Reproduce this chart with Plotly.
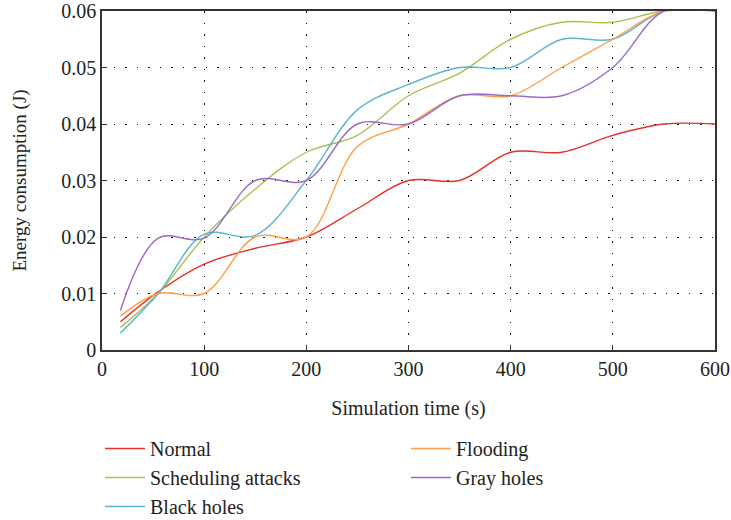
import plotly.graph_objects as go

time_s = [18, 55, 100, 150, 200, 250, 300, 350, 400, 450, 500, 550, 600]
normal = [0.005, 0.0103, 0.0152, 0.018, 0.020, 0.025, 0.030, 0.030, 0.035, 0.035, 0.038, 0.040, 0.040]
scheduling = [0.004, 0.010, 0.020, 0.0285, 0.035, 0.038, 0.045, 0.049, 0.055, 0.058, 0.058, 0.060, 0.060]
black_holes = [0.003, 0.010, 0.0205, 0.0203, 0.030, 0.0425, 0.047, 0.050, 0.050, 0.055, 0.055, 0.060, 0.060]
flooding = [0.006, 0.010, 0.010, 0.020, 0.020, 0.036, 0.040, 0.045, 0.045, 0.050, 0.055, 0.060, 0.060]
gray_holes = [0.007, 0.0198, 0.0198, 0.030, 0.030, 0.040, 0.040, 0.045, 0.045, 0.045, 0.050, 0.060, 0.060]

series = [
    ("Normal", normal, "#e8302a", "legend"),
    ("Scheduling attacks", scheduling, "#a9c14f", "legend"),
    ("Black holes", black_holes, "#5bb5cf", "legend"),
    ("Flooding", flooding, "#ff9d45", "legend2"),
    ("Gray holes", gray_holes, "#9a6ac4", "legend2"),
]

fig = go.Figure()
for name, ys, color, lg in series:
    fig.add_trace(go.Scatter(x=time_s, y=ys, name=name, mode="lines", legend=lg,
                             line=dict(color=color, width=1.4, shape="spline", smoothing=1.0)))

font_family = "Liberation Serif, DejaVu Serif, serif"
legend_common = dict(orientation="v", xanchor="left", xref="paper",
                     yref="container", y=1 - 429 / 520, yanchor="top", font=dict(size=20),
                     itemwidth=40, bgcolor="rgba(0,0,0,0)")
fig.update_layout(
    width=731, height=520,
    margin=dict(l=102, r=16, t=11, b=170),
    plot_bgcolor="white", paper_bgcolor="white",
    font=dict(family=font_family, size=20, color="#222"),
    showlegend=True,
    legend=dict(x=-2 / 613, **legend_common),
    legend2=dict(x=304 / 613, **legend_common),
)
fig.update_xaxes(range=[0, 600], tickvals=[0, 100, 200, 300, 400, 500, 600],
                 showgrid=True, gridcolor="#111", griddash="1.5px,10px", gridwidth=1,
                 showline=True, linecolor="#333", linewidth=1.5, mirror=True,
                 ticks="inside", ticklen=5, tickcolor="#333", zeroline=False,
                 tickfont=dict(size=20), automargin=False, ticklabeloverflow="allow",
                 title=dict(text="Simulation time (s)", font=dict(size=20), standoff=22))
fig.update_yaxes(range=[0, 0.06], tickvals=[0, 0.01, 0.02, 0.03, 0.04, 0.05, 0.06],
                 ticktext=["0", "0.01", "0.02", "0.03", "0.04", "0.05", "0.06"],
                 showgrid=True, gridcolor="#111", griddash="1.5px,10px", gridwidth=1,
                 showline=True, linecolor="#333", linewidth=1.5, mirror=True,
                 ticks="inside", ticklen=5, tickcolor="#333", zeroline=False,
                 tickfont=dict(size=20), automargin=False, ticklabeloverflow="allow",
                 title=dict(text="Energy consumption (J)", font=dict(size=19), standoff=30))

fig.write_html("out.html")
